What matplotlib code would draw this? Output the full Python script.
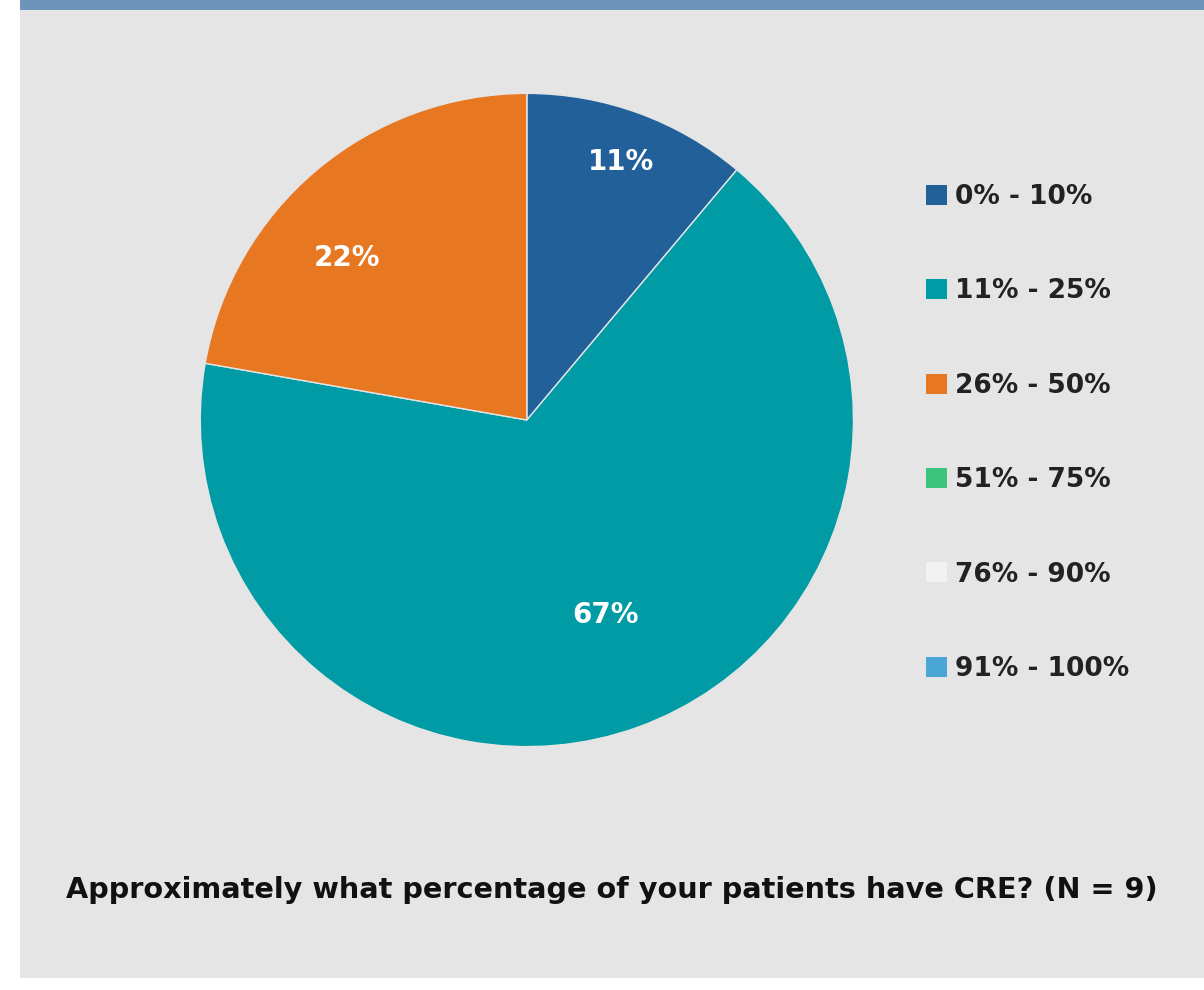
import numpy as np
import matplotlib.pyplot as plt
from matplotlib.patches import Rectangle, Patch

# Survey responses per bin (N = 9)
bins = ['0% - 10%', '11% - 25%', '26% - 50%', '51% - 75%', '76% - 90%', '91% - 100%']
counts = [1, 6, 2, 0, 0, 0]
colors = ['#22609a', '#009ba5', '#e87722', '#3cc47c', '#f2f2f2', '#4aa6d6']
caption = 'Approximately what percentage of your patients have CRE? (N = 9)'

fig = plt.figure(figsize=(12.04, 9.9), dpi=100)
fig.patch.set_facecolor('white')

# Grey panel with a blue strip on top
fig.add_artist(Rectangle((20 / 1204, 12 / 990), 1184 / 1204, 978 / 990,
                         transform=fig.transFigure, facecolor='#e5e5e5',
                         edgecolor='none', zorder=0))
fig.add_artist(Rectangle((20 / 1204, 980 / 990), 1184 / 1204, 10 / 990,
                         transform=fig.transFigure, facecolor='#6f94bb',
                         edgecolor='none', zorder=0))

ax = fig.add_axes([0.1636, 0.2424, 0.548, 0.6667])
ax.set_facecolor('none')

shown = [i for i, c in enumerate(counts) if c > 0]
vals = [counts[i] for i in shown]
wedges, _ = ax.pie(vals, colors=[colors[i] for i in shown], startangle=90,
                   counterclock=False, radius=1,
                   wedgeprops=dict(edgecolor='#e5e5e5', linewidth=1))
ax.set_xlim(-1.01, 1.01)
ax.set_ylim(-1.01, 1.01)
ax.set_aspect('equal')

# percentage labels (radius factor, angle nudge in degrees)
label_pos = [(0.84, 0), (0.645, 2), (0.74, 8)]
total = sum(vals)
for w, v, (r, da) in zip(wedges, vals, label_pos):
    ang = np.deg2rad((w.theta1 + w.theta2) / 2 + da)
    ax.text(r * np.cos(ang), r * np.sin(ang), f'{round(100 * v / total)}%',
            ha='center', va='center', color='white', fontsize=20, fontweight='bold')

handles = [Patch(facecolor=c, edgecolor='none') for c in colors]
fig.legend(handles, bins, loc='upper left', bbox_to_anchor=(0.749, 0.838),
           frameon=False, prop=dict(size=19, weight='bold'), labelspacing=2.59,
           handlelength=0.8, handleheight=0.8, handletextpad=0.3,
           labelcolor='#222222')

fig.text(0.508, 0.101, caption, ha='center', va='center', fontsize=20.7,
         fontweight='bold', color='#111111')

fig.savefig('out.png', dpi=100)
